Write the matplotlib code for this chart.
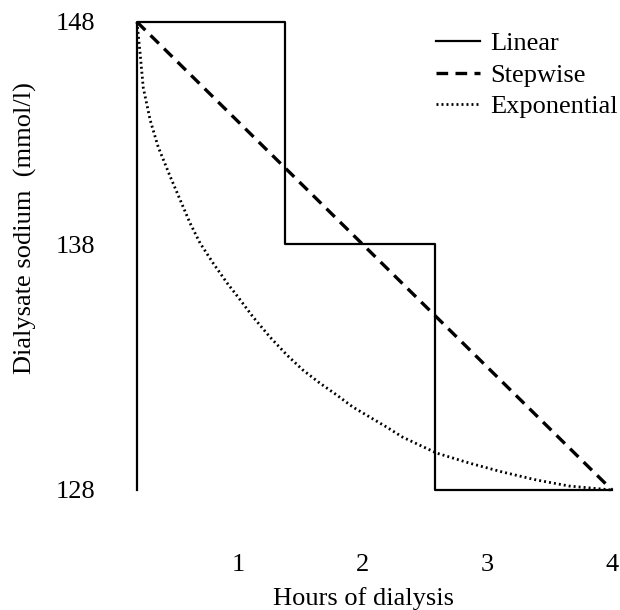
import numpy as np
import matplotlib.pyplot as plt

plt.rcParams['font.family'] = ['Liberation Serif', 'DejaVu Serif']

# solid step profile ("Linear" in legend)
step_x = [0.19, 0.19, 1.38, 1.38, 2.58, 2.58, 4.0]
step_y = [128, 148, 148, 138.5, 138.5, 128, 128]

# dashed straight line ("Stepwise" in legend)
dash_x = [0.19, 4.0]
dash_y = [148, 128]

# dotted decay curve ("Exponential")
exp_x = [0.19, 0.216, 0.24, 0.296, 0.36, 0.456, 0.536, 0.616, 0.696, 0.80, 0.912, 1.0,
         1.12, 1.256, 1.392, 1.52, 1.656, 1.792, 1.92, 2.056, 2.192, 2.32, 2.456, 2.592,
         2.856, 3.12, 3.392, 3.656, 4.0]
exp_y = [148.0, 146.6, 145.2, 143.8, 142.66, 141.4, 140.4, 139.4, 138.55, 137.7, 136.85, 136.25,
         135.4, 134.54, 133.77, 133.13, 132.57, 132.06, 131.55, 131.12, 130.69, 130.26, 129.92, 129.58,
         129.15, 128.77, 128.43, 128.17, 128.0]

xticks = [1, 2, 3, 4]
yticks = [128, 138.5, 148]
ytick_labels = ['128', '138', '148']

FS = 19

fig = plt.figure(figsize=(6.2, 6.1), dpi=100)
ax = fig.add_axes([137/620, 1 - 490/610, (612 - 137)/620, (490 - 22)/610])

ax.plot(step_x, step_y, color='black', lw=1.6, label='Linear', clip_on=False)
ax.plot(dash_x, dash_y, color='black', lw=2.4, dashes=(3.5, 2.2), label='Stepwise', clip_on=False)
ax.plot(exp_x, exp_y, color='black', lw=2.0, dashes=(0.7, 1.1), label='Exponential', clip_on=False)

ax.set_xlim(0.19, 4.0)
ax.set_ylim(128, 148)
for s in ax.spines.values():
    s.set_visible(False)

ax.set_xticks(xticks)
ax.set_xticklabels([str(t) for t in xticks])
ax.set_yticks(yticks)
ax.set_yticklabels(ytick_labels)
ax.tick_params(axis='both', length=0, labelsize=FS)
ax.tick_params(axis='x', pad=46)
ax.tick_params(axis='y', pad=30)

ax.set_xlabel('Hours of dialysis', fontsize=FS)
ax.xaxis.set_label_coords(0.476, -0.208)
ax.set_ylabel('Dialysate sodium  (mmol/l)', fontsize=FS, va='center')
ax.yaxis.set_label_coords(-0.234, 0.56)

ax.legend(loc='upper left', bbox_to_anchor=(436/620, 1 - 32/610), bbox_transform=fig.transFigure,
          frameon=False, fontsize=FS, borderpad=0, borderaxespad=0,
          handlelength=1.67, handletextpad=0.38, labelspacing=0.3)

fig.savefig('out.png', dpi=100)
